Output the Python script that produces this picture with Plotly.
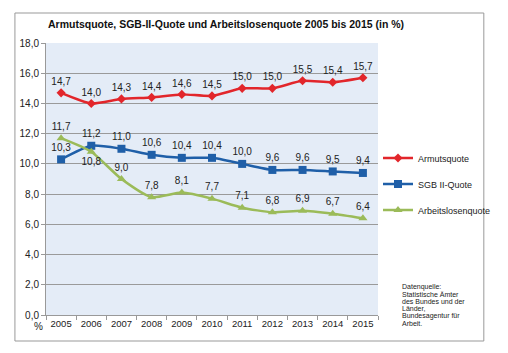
import plotly.graph_objects as go

years = ["2005", "2006", "2007", "2008", "2009", "2010", "2011", "2012", "2013", "2014", "2015"]
armut = [14.7, 14.0, 14.3, 14.4, 14.6, 14.5, 15.0, 15.0, 15.5, 15.4, 15.7]
sgb = [10.3, 11.2, 11.0, 10.6, 10.4, 10.4, 10.0, 9.6, 9.6, 9.5, 9.4]
alq = [11.7, 10.8, 9.0, 7.8, 8.1, 7.7, 7.1, 6.8, 6.9, 6.7, 6.4]
names = ["Armutsquote", "SGB II-Quote", "Arbeitslosenquote"]
alq_pos = ["top center", "bottom center"] + ["top center"] * 9
source_lines = ["Datenquelle:", "Statistische Ämter", "des Bundes und der", "Länder,",
                "Bundesagentur für", "Arbeit."]

def lab(vals):
    return [f"{v:.1f}".replace(".", ",") for v in vals]

FONT = "Liberation Sans, Arial, sans-serif"
fig = go.Figure()
fig.add_trace(go.Scatter(x=years, y=armut, name=names[0], mode="lines+markers+text",
    line=dict(color="#E2262B", width=2.5, shape="spline", smoothing=0.6),
    marker=dict(symbol="diamond", size=7, color="#E2262B"),
    text=lab(armut), textposition="top center", textfont=dict(size=10, color="#222"),
    legend="legend"))
fig.add_trace(go.Scatter(x=years, y=sgb, name=names[1], mode="lines+markers+text",
    line=dict(color="#1F5FA8", width=2.5, shape="spline", smoothing=0.6),
    marker=dict(symbol="square", size=8, color="#1F5FA8"),
    text=lab(sgb), textposition="top center", textfont=dict(size=10, color="#222"),
    legend="legend2"))
fig.add_trace(go.Scatter(x=years, y=alq, name=names[2], mode="lines+markers+text",
    line=dict(color="#9BBB59", width=2.5, shape="spline", smoothing=0.6),
    marker=dict(symbol="triangle-up", size=8, color="#9BBB59"),
    text=lab(alq), textposition=alq_pos, textfont=dict(size=10, color="#222"),
    legend="legend3"))

legbase = dict(x=1.0, xanchor="left", yanchor="middle", bgcolor="rgba(0,0,0,0)",
               font=dict(size=9, color="#222", family=FONT), itemwidth=30, visible=True)
fig.update_layout(
    width=508, height=353,
    margin=dict(l=46, r=120, t=43, b=38),
    paper_bgcolor="white", plot_bgcolor="#E4ECF7",
    separators=",.",
    showlegend=True,
    font=dict(family=FONT, size=10, color="#222"),
    legend=dict(**legbase, y=(315 - 158) / 272),
    legend2=dict(**legbase, y=(315 - 184) / 272),
    legend3=dict(**legbase, y=(315 - 210) / 272),
    xaxis=dict(type="category", range=[-0.5, 10.5], showgrid=False, showline=True,
               linecolor="#999", ticks="outside", ticklen=4, tickcolor="#999",
               tickson="boundaries", tickangle=0, tickfont=dict(size=9.5, color="#222")),
    yaxis=dict(range=[0, 18], dtick=2, tickformat=".1f", showgrid=True, gridcolor="#9A9A9A",
               gridwidth=1, showline=True, linecolor="#999", ticks="outside", ticklen=4,
               tickcolor="#999", zeroline=False, tickfont=dict(size=10, color="#222")),
)
fig.add_shape(type="rect", xref="paper", yref="paper",
              x0=(14 - 46) / 342, x1=(497 - 46) / 342, y0=(315 - 341) / 272, y1=(315 - 13) / 272,
              line=dict(color="#999", width=1), fillcolor="rgba(0,0,0,0)", layer="below")
fig.add_annotation(text="<b>Armutsquote, SGB-II-Quote und Arbeitslosenquote 2005 bis 2015 (in %)</b>",
                   xref="paper", yref="paper", x=0, y=(315 - 24) / 272, xanchor="left", yanchor="middle",
                   showarrow=False, font=dict(size=10.5, color="#111"))
fig.add_annotation(text="%", xref="paper", yref="paper", x=(38 - 46) / 342, y=(315 - 326) / 272,
                   xanchor="center", yanchor="middle", showarrow=False, font=dict(size=10))
for i, line in enumerate(source_lines):
    fig.add_annotation(text=line, xref="paper", yref="paper", x=(411 - 46) / 342,
                       y=(315 - (287 + 7.2 * i)) / 272, xanchor="left", yanchor="middle",
                       align="left", showarrow=False, font=dict(size=7, color="#222"))
fig.write_html("out.html")
